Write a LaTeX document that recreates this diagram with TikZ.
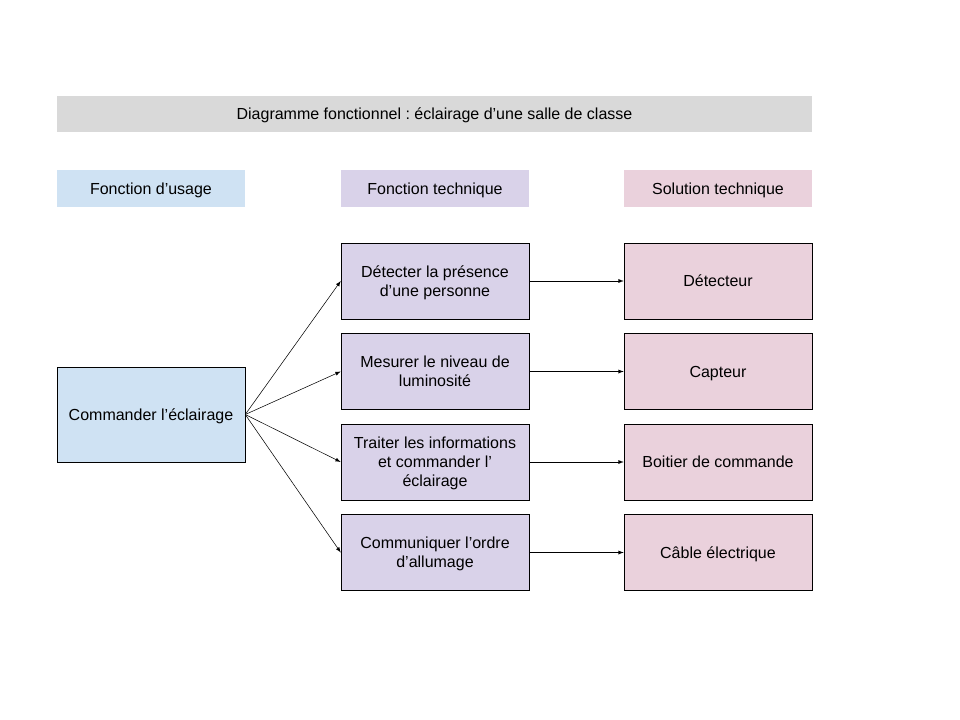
\documentclass[tikz,border=0pt]{standalone}
\usepackage{fontspec}
\setmainfont{Liberation Sans}
\frenchspacing
\usetikzlibrary{positioning}
\definecolor{usageblue}{HTML}{CFE2F3}
\definecolor{techpurple}{HTML}{D9D2E9}
\definecolor{solpink}{HTML}{EAD1DC}
\definecolor{titlegray}{HTML}{D9D9D9}
\tikzset{x=0.75pt, y=-0.75pt, % Pixel grid of the reference
every node/.style=
    { % Common text settings
        font=\fontsize{12pt}{14.25pt}\selectfont,
        align=center,
        text depth=0pt,
        inner sep=0pt
    },
    header/.style={minimum width=141pt, minimum height=27.75pt},
    box/.style={ % Framed boxes
        draw=black,
        thin,
        minimum width=141pt,
        minimum height=57pt
    },
    link/.style={ % Arrows between boxes
        draw,
        ->,>=latex,
        thin
    }
}
\begin{document}
\begin{tikzpicture}
    \useasboundingbox (0,0) rectangle (960,720);
    \node[fill=titlegray, minimum width=566.25pt, minimum height=27pt] (title) at (434.5,114) {Diagramme fonctionnel : éclairage d’une salle de classe};
    \node[header, fill=usageblue] (husage) at (151,188.5) {Fonction d’usage};
    \node[header, fill=techpurple] (htech) at (435,188.5) {Fonction technique};
    \node[header, fill=solpink] (hsol) at (718,188.5) {Solution technique};

    \node[box, fill=usageblue, minimum height=71.25pt] (usage) at (151,414.5) {Commander l’éclairage};

    \node[box, fill=techpurple] (t1) at (435,281) {Détecter la présence\\d’une personne};
    \node[box, fill=techpurple] (t2) at (435,371.5) {Mesurer le niveau de\\luminosité};
    \node[box, fill=techpurple] (t3) at (435,462) {Traiter les informations\\et commander l’\\éclairage};
    \node[box, fill=techpurple] (t4) at (435,552.5) {Communiquer l’ordre\\d’allumage};

    \node[box, fill=solpink] (s1) at (718,281) {Détecteur};
    \node[box, fill=solpink] (s2) at (718,371.5) {Capteur};
    \node[box, fill=solpink] (s3) at (718,462) {Boitier de commande};
    \node[box, fill=solpink] (s4) at (718,552.5) {Câble électrique};

    \foreach \i in {1,...,4}
    {
        \draw[link] (usage.east) -- (t\i.west);
        \draw[link] (t\i.east) -- (s\i.west);
    }
\end{tikzpicture}
\end{document}
